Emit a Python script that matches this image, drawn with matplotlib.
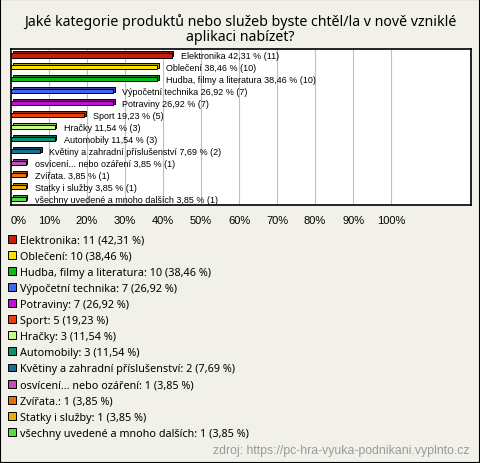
"""
Survey result: which product categories should the new app offer.
Horizontal 3D-ish bars with a value label on each, legend listed below.
"""
import matplotlib
matplotlib.use("Agg")
import matplotlib.pyplot as plt
import matplotlib.transforms as mtransforms
from matplotlib.patches import Patch
import matplotlib.colors as mcolors

plt.rcParams["font.family"] = ["Liberation Sans", "DejaVu Sans"]
WIDE = ["Noto Sans", "DejaVu Sans"]

TITLE = "Jaké kategorie produktů nebo služeb byste chtěl/la v nově vzniklé\naplikaci nabízet?"
SOURCE = "zdroj: https://pc-hra-vyuka-podnikani.vyplnto.cz"

categories = ["Elektronika", "Oblečení", "Hudba, filmy a literatura", "Výpočetní technika",
              "Potraviny", "Sport", "Hračky", "Automobily",
              "Květiny a zahradní příslušenství", "osvícení... nebo ozáření", "Zvířata.",
              "Statky i služby", "všechny uvedené a mnoho dalších"]
counts = [11, 10, 10, 7, 7, 5, 3, 3, 2, 1, 1, 1, 1]
percents = [42.31, 38.46, 38.46, 26.92, 26.92, 19.23, 11.54, 11.54, 7.69, 3.85, 3.85, 3.85, 3.85]
colors = ["#c81e0a", "#f5e400", "#10b820", "#4466ee", "#c010d0", "#e84010", "#c8ff80",
          "#10906a", "#1a7090", "#c050c0", "#e87010", "#e8b000", "#50e040"]
xticks = [0, 10, 20, 30, 40, 50, 60, 70, 80, 90, 100]

BG = "#f2f1e9"


def pct(v):
    return f"{v:.2f}".replace(".", ",")


fig = plt.figure(figsize=(4.8, 4.64), dpi=100, facecolor=BG)
fig.patches.append(plt.Rectangle((0, 0), 1, 1, transform=fig.transFigure, fill=False,
                                 edgecolor="black", linewidth=1.5))
fig.text(0.5, 0.970, TITLE, ha="center", va="top", fontsize=10.2, linespacing=1.05,
         family=WIDE)

ax = fig.add_axes([0.023, 0.556, 0.958, 0.336])
ax.set_facecolor("white")
ax.set_xlim(0, 121)
ax.set_ylim(len(categories) - 0.5, -0.5)
for x in xticks[1:]:
    ax.axvline(x, color="#c0c0c0", linewidth=0.8, zorder=0)

ypos = list(range(len(categories)))
# depth copy drawn behind, shifted up/right a couple of pixels for the 3D look
depth = mtransforms.offset_copy(ax.transData, fig=fig, x=1.5, y=1.8, units="dots")
dark = [tuple(c * 0.7 for c in mcolors.to_rgb(col)) for col in colors]
ax.barh(ypos, percents, height=0.4, color=dark, edgecolor="black", linewidth=0.7,
        transform=depth, zorder=2)
ax.barh(ypos, percents, height=0.4, color=colors, edgecolor="black", linewidth=0.7, zorder=3)

for y, name, p, n in zip(ypos, categories, percents, counts):
    ax.annotate(f"{name} {pct(p)} % ({n})", (p, y), xytext=(6.5, 0), textcoords="offset points",
                fontsize=6.5, va="center", ha="left", zorder=4)

ax.set_xticks(xticks)
ax.set_xticklabels([f"{t}%" for t in xticks], fontsize=8)
ax.get_xticklabels()[0].set_ha("left")
ax.tick_params(axis="x", length=0, pad=7)
ax.set_yticks([])
for s in ax.spines.values():
    s.set_linewidth(1.2)

handles = [Patch(facecolor=c, edgecolor="black", linewidth=0.7) for c in colors]
labels = [f"{name}: {n} ({pct(p)} %)" for name, n, p in zip(categories, counts, percents)]
fig.legend(handles, labels, loc="upper left", bbox_to_anchor=(0.012, 0.497), frameon=False,
           prop={"family": WIDE, "size": 7.8}, handlelength=0.75, handleheight=0.75,
           handletextpad=0.35, labelspacing=0.47, borderpad=0.2, borderaxespad=0)

fig.text(0.979, 0.027, SOURCE, ha="right", va="center", fontsize=8.8, color="#999999")

fig.savefig("out.png", dpi=100, facecolor=BG)
